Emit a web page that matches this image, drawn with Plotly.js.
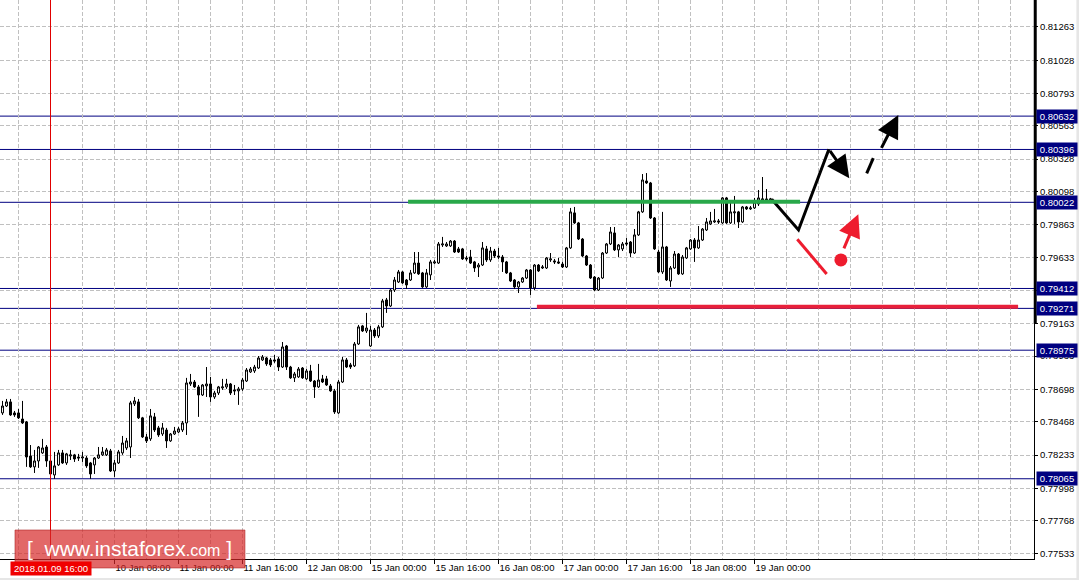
<!DOCTYPE html>
<html>
<head>
<meta charset="utf-8">
<script src="https://cdn.plot.ly/plotly-3.0.1.min.js"></script>
<style>
  html, body { margin: 0; padding: 0; background: #ffffff; }
  #chart { width: 1079px; height: 580px; }
</style>
</head>
<body>
<div id="chart"></div>
<script>
// ---- H1 bars, 2018-01-09 04:00 .. 2018-01-19 04:00 (bar index 0..192) ----
const openP = [
0.78531,0.78580,0.78609,0.78531,0.78531,0.78488,0.78467,0.78226,0.78149,0.78191,
0.78248,0.78290,0.78191,0.78092,0.78163,0.78248,0.78177,0.78226,0.78234,0.78219,
0.78212,0.78212,0.78177,0.78163,0.78212,0.78234,0.78234,0.78262,0.78120,0.78177,
0.78248,0.78283,0.78290,0.78595,0.78609,0.78496,0.78361,0.78347,0.78503,0.78425,
0.78382,0.78410,0.78333,0.78382,0.78396,0.78410,0.78460,0.78736,0.78750,0.78715,
0.78658,0.78722,0.78736,0.78644,0.78672,0.78708,0.78715,0.78736,0.78694,0.78687,
0.78701,0.78757,0.78821,0.78828,0.78849,0.78906,0.78920,0.78906,0.78906,0.78913,
0.78856,0.79005,0.78856,0.78779,0.78786,0.78849,0.78772,0.78828,0.78757,0.78715,
0.78772,0.78772,0.78722,0.78687,0.78531,0.78750,0.78906,0.78871,0.78864,0.79019,
0.79147,0.79111,0.79005,0.79118,0.79076,0.79140,0.79331,0.79288,0.79401,0.79458,
0.79529,0.79472,0.79472,0.79522,0.79592,0.79522,0.79423,0.79508,0.79592,0.79592,
0.79720,0.79713,0.79713,0.79748,0.79692,0.79692,0.79628,0.79635,0.79600,0.79564,
0.79578,0.79692,0.79614,0.79677,0.79642,0.79635,0.79600,0.79522,0.79472,0.79423,
0.79458,0.79486,0.79543,0.79416,0.79578,0.79557,0.79557,0.79614,0.79607,0.79600,
0.79585,0.79564,0.79699,0.79947,0.79876,0.79762,0.79642,0.79578,0.79493,0.79401,
0.79486,0.79663,0.79727,0.79805,0.79685,0.79692,0.79734,0.79741,0.79663,0.79791,
0.79954,0.80173,0.80159,0.79911,0.79670,0.79529,0.79706,0.79465,0.79557,0.79656,
0.79515,0.79628,0.79692,0.79755,0.79699,0.79755,0.79826,0.79869,0.79883,0.79890,
0.79876,0.80053,0.79876,0.79947,0.79954,0.79883,0.79989,0.79975,0.79982,0.80010,
0.80038,0.80046,0.80038];
const highP = [
0.78616,0.78630,0.78630,0.78545,0.78559,0.78616,0.78474,0.78304,0.78269,0.78297,
0.78347,0.78304,0.78198,0.78255,0.78269,0.78269,0.78248,0.78269,0.78241,0.78241,
0.78255,0.78226,0.78184,0.78219,0.78290,0.78290,0.78283,0.78276,0.78198,0.78269,
0.78368,0.78354,0.78616,0.78644,0.78630,0.78503,0.78382,0.78559,0.78531,0.78439,
0.78460,0.78425,0.78389,0.78432,0.78432,0.78474,0.78779,0.78807,0.78764,0.78729,
0.78736,0.78856,0.78786,0.78687,0.78722,0.78772,0.78772,0.78743,0.78729,0.78715,
0.78779,0.78849,0.78856,0.78871,0.78934,0.78941,0.78927,0.78920,0.78941,0.78927,
0.79033,0.79012,0.78864,0.78821,0.78856,0.78856,0.78842,0.78871,0.78764,0.78878,
0.78800,0.78793,0.78736,0.78701,0.78764,0.78927,0.78920,0.78885,0.79033,0.79154,
0.79154,0.79239,0.79147,0.79132,0.79154,0.79338,0.79345,0.79408,0.79493,0.79543,
0.79536,0.79479,0.79543,0.79670,0.79670,0.79529,0.79550,0.79614,0.79614,0.79741,
0.79777,0.79741,0.79755,0.79755,0.79706,0.79699,0.79642,0.79685,0.79607,0.79592,
0.79741,0.79713,0.79706,0.79692,0.79699,0.79649,0.79607,0.79529,0.79479,0.79465,
0.79493,0.79550,0.79550,0.79585,0.79585,0.79578,0.79635,0.79663,0.79621,0.79628,
0.79600,0.79706,0.79982,0.79989,0.79883,0.79769,0.79649,0.79585,0.79500,0.79493,
0.79670,0.79734,0.79847,0.79847,0.79727,0.79741,0.79769,0.79748,0.79833,0.79961,
0.80222,0.80229,0.80166,0.79918,0.79685,0.79954,0.79713,0.79571,0.79677,0.79663,
0.79649,0.79706,0.79762,0.79769,0.79854,0.79840,0.79911,0.79954,0.79975,0.79904,
0.80060,0.80060,0.80017,0.80067,0.79961,0.79996,0.79996,0.79996,0.80053,0.80109,
0.80201,0.80116,0.80053];
const lowP = [
0.78517,0.78573,0.78510,0.78503,0.78488,0.78453,0.78149,0.78142,0.78106,0.78142,
0.78241,0.78149,0.78064,0.78064,0.78156,0.78170,0.78163,0.78198,0.78184,0.78191,
0.78184,0.78142,0.78064,0.78099,0.78205,0.78226,0.78226,0.78113,0.78078,0.78170,
0.78234,0.78269,0.78212,0.78580,0.78488,0.78354,0.78318,0.78333,0.78396,0.78361,
0.78368,0.78283,0.78326,0.78375,0.78389,0.78396,0.78375,0.78722,0.78708,0.78503,
0.78651,0.78644,0.78609,0.78630,0.78658,0.78694,0.78701,0.78658,0.78658,0.78588,
0.78687,0.78750,0.78814,0.78814,0.78842,0.78899,0.78864,0.78856,0.78885,0.78828,
0.78849,0.78835,0.78772,0.78750,0.78779,0.78772,0.78764,0.78750,0.78637,0.78708,
0.78743,0.78722,0.78680,0.78524,0.78524,0.78743,0.78849,0.78842,0.78856,0.79012,
0.79104,0.79097,0.78998,0.79062,0.79062,0.79132,0.79239,0.79281,0.79387,0.79451,
0.79444,0.79408,0.79465,0.79515,0.79508,0.79416,0.79416,0.79472,0.79585,0.79585,
0.79706,0.79706,0.79706,0.79663,0.79663,0.79614,0.79607,0.79585,0.79529,0.79493,
0.79571,0.79600,0.79600,0.79628,0.79621,0.79529,0.79515,0.79458,0.79408,0.79380,
0.79451,0.79479,0.79366,0.79401,0.79529,0.79550,0.79550,0.79600,0.79585,0.79585,
0.79557,0.79557,0.79692,0.79869,0.79755,0.79635,0.79571,0.79479,0.79394,0.79394,
0.79479,0.79656,0.79720,0.79677,0.79635,0.79677,0.79713,0.79635,0.79656,0.79784,
0.79947,0.80152,0.79904,0.79685,0.79522,0.79515,0.79465,0.79423,0.79550,0.79508,
0.79508,0.79621,0.79685,0.79600,0.79692,0.79748,0.79819,0.79861,0.79876,0.79869,
0.79869,0.79869,0.79869,0.79869,0.79840,0.79876,0.79968,0.79968,0.79975,0.79996,
0.80017,0.80031,0.80024];
const closeP = [
0.78580,0.78609,0.78517,0.78517,0.78496,0.78460,0.78219,0.78149,0.78191,0.78290,
0.78283,0.78191,0.78099,0.78156,0.78248,0.78177,0.78241,0.78234,0.78205,0.78212,
0.78219,0.78156,0.78099,0.78212,0.78234,0.78255,0.78269,0.78120,0.78177,0.78255,
0.78318,0.78333,0.78602,0.78616,0.78496,0.78361,0.78333,0.78510,0.78410,0.78375,
0.78425,0.78333,0.78382,0.78403,0.78418,0.78460,0.78743,0.78750,0.78715,0.78658,
0.78729,0.78736,0.78644,0.78672,0.78715,0.78715,0.78736,0.78672,0.78687,0.78701,
0.78764,0.78835,0.78842,0.78856,0.78920,0.78927,0.78878,0.78871,0.78899,0.78856,
0.78998,0.78856,0.78779,0.78807,0.78842,0.78779,0.78828,0.78757,0.78715,0.78764,
0.78750,0.78729,0.78687,0.78538,0.78750,0.78906,0.78856,0.78856,0.79019,0.79140,
0.79111,0.79132,0.79118,0.79076,0.79140,0.79324,0.79288,0.79401,0.79472,0.79529,
0.79451,0.79437,0.79522,0.79592,0.79515,0.79423,0.79522,0.79600,0.79600,0.79727,
0.79727,0.79727,0.79748,0.79670,0.79670,0.79621,0.79621,0.79592,0.79557,0.79578,
0.79699,0.79614,0.79677,0.79642,0.79635,0.79600,0.79522,0.79465,0.79423,0.79458,
0.79486,0.79543,0.79416,0.79578,0.79536,0.79564,0.79628,0.79621,0.79600,0.79592,
0.79564,0.79699,0.79954,0.79876,0.79762,0.79642,0.79578,0.79486,0.79401,0.79486,
0.79663,0.79727,0.79812,0.79685,0.79720,0.79727,0.79727,0.79663,0.79791,0.79954,
0.80180,0.80159,0.79911,0.79692,0.79529,0.79706,0.79472,0.79557,0.79656,0.79515,
0.79635,0.79699,0.79755,0.79699,0.79755,0.79833,0.79883,0.79890,0.79890,0.79883,
0.80053,0.79876,0.79954,0.79954,0.79883,0.79989,0.79975,0.79982,0.80024,0.80053,
0.80046,0.80038,0.80046];

// ---- axis ticks ----
const timeTickBars = [28, 44, 60, 76, 92, 108, 124, 140, 156, 172, 188];
const timeTickText = ['10 Jan 08:00','11 Jan 00:00','11 Jan 16:00','12 Jan 08:00',
  '15 Jan 00:00','15 Jan 16:00','16 Jan 08:00','17 Jan 00:00','17 Jan 16:00','18 Jan 08:00','19 Jan 00:00'];
const priceTicks = [0.81263,0.81028,0.80793,0.80563,0.80328,0.80098,0.79863,0.79633,0.79398,
  0.79163,0.78933,0.78698,0.78468,0.78233,0.77998,0.77768,0.77533];
const priceTickText = ['0.81263','0.81028','0.80793','0.80563','0.80328','0.80098','0.79863','0.79633','',
  '0.79163','0.78933','0.78698','0.78468','0.78233','0.77998','0.77768','0.77533'];

// ---- horizontal levels (navy lines with highlighted price labels) ----
const levelPrices = [0.80632, 0.80396, 0.80022, 0.79412, 0.79271, 0.78975, 0.78065];

// ---- analyst drawings (bar index / price) ----
const resistLine = {x: [101.4, 199.4], y: [0.80026, 0.80026]};
const supportLine = {x: [133.6, 253.9], y: [0.79283, 0.79283]};
const blackPathX = [192.3, 199.0, 206.6];
const blackPathY = [0.80043, 0.79826, 0.80397];
const blackArrow1 = {from: [206.6, 0.80397], to: [211.7, 0.80192]};
const blackDashX = [216.05, 217.7];
const blackDashY = [0.80227, 0.80334];
const blackArrow2 = {from: [219.55, 0.80397], to: [223.95, 0.80640]};
const redPathX = [198.7, 206.05];
const redPathY = [0.79760, 0.79515];
const redDot = [209.6, 0.79614];
const redArrow = {from: [210.2, 0.79685], to: [213.95, 0.79937]};

const crossBar = 12;
const crossLabel = '2018.01.09 16:00';

const barIndex = openP.map((_, i) => i);

const traces = [
  {
    type: 'candlestick', x: barIndex, open: openP, high: highP, low: lowP, close: closeP,
    increasing: {line: {color: '#000000', width: 1}, fillcolor: '#ffffff'},
    decreasing: {line: {color: '#000000', width: 1}, fillcolor: '#000000'},
    whiskerwidth: 0, hoverinfo: 'skip', showlegend: false
  },
  {type: 'scatter', mode: 'lines', x: blackPathX, y: blackPathY,
   line: {color: '#000000', width: 3}, hoverinfo: 'skip'},
  {type: 'scatter', mode: 'lines', x: blackDashX, y: blackDashY,
   line: {color: '#000000', width: 3}, hoverinfo: 'skip'},
  {type: 'scatter', mode: 'lines', x: redPathX, y: redPathY,
   line: {color: '#ee1c2e', width: 3}, hoverinfo: 'skip'},
  {type: 'scatter', mode: 'markers', x: [redDot[0]], y: [redDot[1]],
   marker: {color: '#ee1c2e', size: 13}, hoverinfo: 'skip'}
];

const shapes = [];
levelPrices.forEach(p => shapes.push({type: 'line', xref: 'paper', x0: 0, x1: 1, yref: 'y', y0: p, y1: p,
  line: {color: '#000080', width: 1}, layer: 'below'}));
shapes.push({type: 'line', xref: 'x', x0: crossBar, x1: crossBar, yref: 'paper', y0: 0, y1: 1,
  line: {color: '#e00000', width: 1}, layer: 'above'});
shapes.push({type: 'line', xref: 'x', x0: resistLine.x[0], x1: resistLine.x[1], yref: 'y',
  y0: resistLine.y[0], y1: resistLine.y[1], line: {color: '#29a84a', width: 4}, layer: 'above'});
shapes.push({type: 'line', xref: 'x', x0: supportLine.x[0], x1: supportLine.x[1], yref: 'y',
  y0: supportLine.y[0], y1: supportLine.y[1], line: {color: '#e8203a', width: 4}, layer: 'above'});
// thick part of the price-scale border
shapes.push({type: 'line', xref: 'paper', x0: 1.0012, x1: 1.0012, yref: 'paper', y0: 0.4222, y1: 1,
  line: {color: '#000000', width: 3}, layer: 'above'});
// watermark box
shapes.push({type: 'rect', xref: 'paper', yref: 'paper', x0: 0.0145, x1: 0.2369, y0: -0.0161, y1: 0.0519,
  fillcolor: 'rgba(214,40,40,0.70)', line: {color: 'rgba(170,30,30,0.55)', width: 1}, layer: 'above'});
// window edges
shapes.push({type: 'rect', xref: 'paper', yref: 'paper', x0: 1.0410, x1: 1.0440, y0: -0.04, y1: 1,
  fillcolor: '#e6e6e6', line: {width: 0}, layer: 'above'});
shapes.push({type: 'rect', xref: 'paper', yref: 'paper', x0: 0, x1: 1.044, y0: -0.0377, y1: -0.0340,
  fillcolor: '#e6e6e6', line: {width: 0}, layer: 'above'});

const labelFont = {family: 'Liberation Sans, Arial, sans-serif', size: 9.5, color: '#000000'};

const annotations = [];
levelPrices.forEach(p => annotations.push({
  xref: 'paper', x: 1, xanchor: 'left', xshift: 2, yref: 'y', y: p, yanchor: 'middle',
  text: p.toFixed(5), showarrow: false, bgcolor: '#000080', borderpad: 1, width: 38,
  font: {family: labelFont.family, size: 9.5, color: '#ffffff'}
}));
function arrowAnn(a, color) {
  return {xref: 'x', yref: 'y', x: a.to[0], y: a.to[1], axref: 'x', ayref: 'y', ax: a.from[0], ay: a.from[1],
    text: '', showarrow: true, arrowhead: 2, arrowsize: 1.5, arrowwidth: 3, arrowcolor: color, standoff: 0};
}
annotations.push(arrowAnn(blackArrow1, '#000000'));
annotations.push(arrowAnn(blackArrow2, '#000000'));
annotations.push(arrowAnn(redArrow, '#ee1c2e'));
// crosshair time label
annotations.push({xref: 'x', x: crossBar, xanchor: 'center', yref: 'paper', y: 0, yanchor: 'top', yshift: -2,
  text: crossLabel, showarrow: false, bgcolor: '#f00000', borderpad: 1, width: 78,
  font: {family: labelFont.family, size: 9.5, color: '#ffffff'}});
// watermark text
annotations.push({xref: 'paper', x: 0.1257, xanchor: 'center', yref: 'paper', y: 0.019, yanchor: 'middle',
  text: '[  www.instaforex<span style="font-size:16px">.com</span> ]', showarrow: false,
  font: {family: 'Liberation Sans, Arial, sans-serif', size: 21, color: '#ffffff'}});

const layout = {
  width: 1079, height: 580,
  margin: {l: 0, r: 45, t: 0, b: 21, pad: 0},
  paper_bgcolor: '#ffffff', plot_bgcolor: '#ffffff',
  showlegend: false,
  font: labelFont,
  xaxis: {
    range: [-0.625, 257.875], rangeslider: {visible: false},
    tickmode: 'array', tickvals: timeTickBars, ticktext: timeTickText,
    ticks: 'outside', ticklen: 4, tickcolor: '#000000', ticklabelposition: 'outside right',
    showgrid: true, gridcolor: '#c0c0c0', griddash: '4px,2px', gridwidth: 1,
    minor: {tick0: 4, dtick: 8, showgrid: true, gridcolor: '#c0c0c0', griddash: '4px,2px', ticks: ''},
    showline: true, linecolor: '#000000', linewidth: 1, zeroline: false, fixedrange: true,
    tickfont: labelFont
  },
  yaxis: {
    side: 'right', range: [0.77497, 0.81454],
    tickmode: 'array', tickvals: priceTicks, ticktext: priceTickText,
    ticks: 'outside', ticklen: 3, tickcolor: '#000000',
    showgrid: true, gridcolor: '#c0c0c0', griddash: '4px,2px', gridwidth: 1,
    showline: true, linecolor: '#000000', linewidth: 1, zeroline: false, fixedrange: true,
    tickfont: labelFont
  },
  shapes: shapes,
  annotations: annotations
};

Plotly.newPlot('chart', traces, layout, {staticPlot: true, displayModeBar: false});
</script>
</body>
</html>
